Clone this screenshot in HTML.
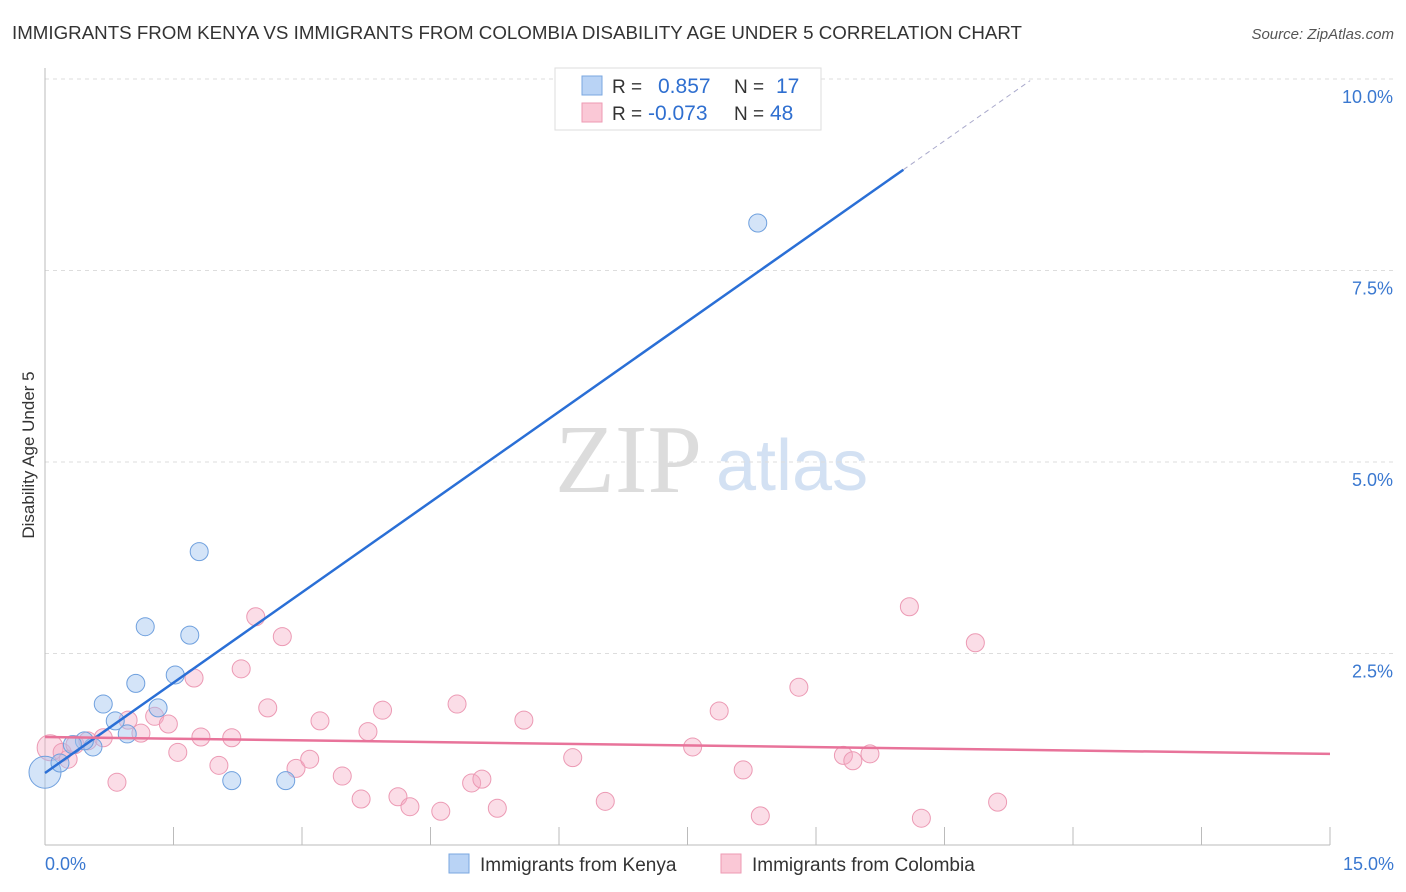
<!DOCTYPE html>
<html><head><meta charset="utf-8"><style>
body{margin:0;background:#fff;font-family:"Liberation Sans",sans-serif;}
svg{display:block}
</style></head><body>
<svg id="chart" width="1406" height="892">
<text x="12" y="39" font-size="18.5" fill="#333" textLength="1010" lengthAdjust="spacingAndGlyphs">IMMIGRANTS FROM KENYA VS IMMIGRANTS FROM COLOMBIA DISABILITY AGE UNDER 5 CORRELATION CHART</text>
<text x="1394" y="39" font-size="15" fill="#555" font-style="italic" text-anchor="end">Source: ZipAtlas.com</text>
<text x="555" y="492" font-size="98" fill="#dcdcdc" font-family="Liberation Serif,serif">ZIP</text>
<text x="716" y="490" font-size="72" fill="#d3e1f3">atlas</text>
<text transform="translate(34,455) rotate(-90)" font-size="17" fill="#333" text-anchor="middle">Disability Age Under 5</text>
<g id="grid"></g><g id="marks"></g>
<g>
<rect x="555" y="68" width="266" height="62" fill="#fff" stroke="#ddd"/>
<rect x="582" y="76" width="20" height="19" fill="#b9d3f5" stroke="#7aa7e0"/>
<rect x="582" y="103" width="20" height="19" fill="#fac8d6" stroke="#ee9ab3"/>
<text x="612" y="93" font-size="19" fill="#333">R =</text><text x="658" y="93" font-size="21" fill="#2f6fd0">0.857</text>
<text x="734" y="93" font-size="19" fill="#333">N =</text><text x="776" y="93" font-size="21" fill="#2f6fd0">17</text>
<text x="612" y="120" font-size="19" fill="#333">R =</text><text x="648" y="120" font-size="21" fill="#2f6fd0">-0.073</text>
<text x="734" y="120" font-size="19" fill="#333">N =</text><text x="770" y="120" font-size="21" fill="#2f6fd0">48</text>
</g>
<g>
<rect x="449" y="854" width="20" height="19" fill="#b9d3f5" stroke="#7aa7e0"/>
<text x="480" y="871" font-size="19" fill="#333">Immigrants from Kenya</text>
<rect x="721" y="854" width="20" height="19" fill="#fac8d6" stroke="#ee9ab3"/>
<text x="752" y="871" font-size="19" fill="#333">Immigrants from Colombia</text>
</g>
</svg>
<script>
const yTicks=[2.5,5,7.5,10];
const yTickLabels=["2.5%","5.0%","7.5%","10.0%"];
const xTickLabels=["0.0%","15.0%"];
const kenyaX=[0,0.175,0.56,0.46,0.68,0.82,0.96,1.06,1.17,1.32,1.52,1.69,1.80,2.18,2.81,8.32,0.32];
const kenyaY=[0.95,1.07,1.28,1.36,1.84,1.62,1.45,2.11,2.85,1.79,2.22,2.74,3.83,0.84,0.84,8.12,1.31];
const colX=[0.06,0.2,0.27,0.35,0.5,0.68,0.84,0.97,1.12,1.28,1.44,1.55,1.74,1.82,2.03,2.18,2.29,2.46,2.6,2.77,2.93,3.09,3.21,3.47,3.69,3.77,3.94,4.12,4.26,4.62,4.81,4.98,5.10,5.28,5.59,6.16,6.54,7.56,7.87,8.15,8.35,8.80,9.32,9.43,9.63,10.09,10.23,10.86,11.12];
const colY=[1.27,1.21,1.12,1.31,1.36,1.40,0.82,1.63,1.46,1.68,1.58,1.21,2.18,1.41,1.04,1.40,2.30,2.98,1.79,2.72,1.0,1.12,1.62,0.90,0.60,1.48,1.76,0.63,0.50,0.44,1.84,0.81,0.86,0.48,1.63,1.14,0.57,1.28,1.75,0.98,0.38,2.06,1.17,1.10,1.19,3.11,0.35,2.64,0.56];
const kenyaLine=[0.94,0.786];
const colLine=[1.41,-0.0147];
const X=v=>45+v/15*1285, Y=v=>845-v/10*766;
const NS="http://www.w3.org/2000/svg";
function mk(t,a,p){const e=document.createElementNS(NS,t);for(const k in a)e.setAttribute(k,a[k]);p.appendChild(e);return e;}
const g=document.getElementById('grid'), m=document.getElementById('marks');
yTicks.forEach((t,i)=>{
 const l=mk('line',{x1:45,x2:1394,y1:Y(t),y2:Y(t),stroke:'#ddd','stroke-dasharray':'4,4'},g);
 
 
 const tx=mk('text',{x:1393,y:Y(t)+24,'font-size':18,fill:'#3a78d0','text-anchor':'end'},g);
 tx.textContent=yTickLabels[i];
 
 
});
const ax=mk('line',{x1:45,x2:1330,y1:845,y2:845,stroke:'#bbb'},g);


const ay=mk('line',{x1:45,x2:45,y1:68,y2:845,stroke:'#bbb'},g);


for(let i=1;i<=10;i++){
 const t=mk('line',{x1:X(i*1.5),x2:X(i*1.5),y1:827,y2:845,stroke:'#bbb'},g);
 
 
}
[[0,45,'start'],[15,1394,'end']].forEach((d,i)=>{
 const t=mk('text',{x:d[1],y:870,'font-size':18,fill:'#3a78d0','text-anchor':d[2]},g);
 t.textContent=xTickLabels[i];
 
 
});
colX.forEach((x,i)=>{
 const c=mk('circle',{cx:X(x),cy:Y(colY[i]),r:i==0?13:9,fill:'rgba(246,170,195,0.4)',stroke:'#ec9ab4','stroke-width':1},m);
 
 
});
kenyaX.forEach((x,i)=>{
 const c=mk('circle',{cx:X(x),cy:Y(kenyaY[i]),r:i==0?16:9,fill:'rgba(160,195,240,0.45)',stroke:'#6fa0de','stroke-width':1},m);
 
 
});
const kl=mk('line',{x1:X(0),y1:Y(kenyaLine[0]),x2:X(10.02),y2:Y(kenyaLine[0]+kenyaLine[1]*10.02),stroke:'#2a6fd6','stroke-width':2.5},m);


const kd=mk('line',{x1:X(10.02),y1:Y(kenyaLine[0]+kenyaLine[1]*10.02),x2:X(11.5),y2:Y(kenyaLine[0]+kenyaLine[1]*11.5),stroke:'#aac','stroke-width':1,'stroke-dasharray':'5,4'},m);


const cl=mk('line',{x1:X(0),y1:Y(colLine[0]),x2:X(15),y2:Y(colLine[0]+colLine[1]*15),stroke:'#e8739a','stroke-width':2.5},m);


</script>
</body></html>
